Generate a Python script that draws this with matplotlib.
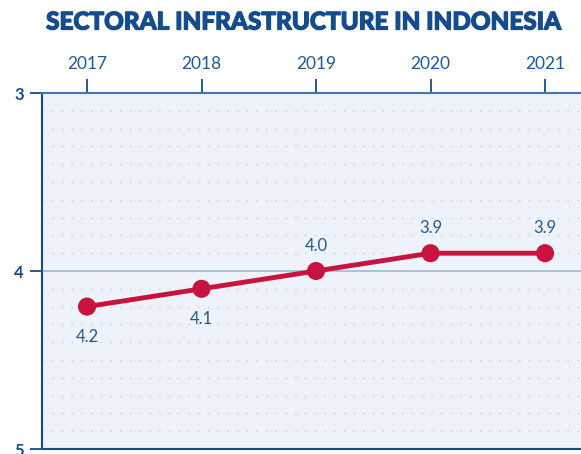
import matplotlib.pyplot as plt
import matplotlib.patheffects as pe
import numpy as np

years = [2017, 2018, 2019, 2020, 2021]
scores = [4.2, 4.1, 4.0, 3.9, 3.9]
labels = ["4.2", "4.1", "4.0", "3.9", "3.9"]
label_above = [False, False, True, True, True]
y_ticks = [3, 4, 5]

NAVY = "#154c8c"
TEXT = "#1f5a94"
RED = "#c8133f"
BG = "#eef3fb"

plt.rcParams["font.family"] = ["Lato", "DejaVu Sans"]

fig = plt.figure(figsize=(5.81, 4.54), dpi=100)
ax = fig.add_axes([42 / 581, 1 - 449 / 454, 539 / 581, (449 - 93) / 454])
ax.set_facecolor(BG)

ax.set_xlim(2016.607, 2021.314)
ax.set_ylim(5, 3)

# dotted grid every 0.1, solid line at 4
for y in np.arange(3.1, 5.0, 0.1):
    if abs(y - 4) < 1e-6:
        continue
    ax.axhline(y, color="#c5cfdc", lw=1.0, ls=(0, (1, 6)), zorder=1)
ax.axhline(4, color="#a8c4de", lw=1.4, zorder=1)

ax.plot(years, scores, color=RED, lw=3.5, zorder=3, solid_capstyle="round")
ax.scatter(years, scores, s=170, color=RED, zorder=4, edgecolors="none")

for x, y, txt, above in zip(years, scores, labels, label_above):
    off = 18 if above else -22
    ax.annotate(txt, (x, y), xytext=(0, off), textcoords="offset points",
                ha="center", va="center", color=TEXT, fontsize=12)

ax.xaxis.tick_top()
ax.set_xticks(years)
ax.set_xticklabels([str(y) for y in years])
ax.set_yticks(y_ticks)
ax.tick_params(axis="x", direction="out", length=10, width=1.3, color=NAVY,
               labelcolor=TEXT, labelsize=12.5, pad=5)
ax.tick_params(axis="y", direction="out", length=9, width=1.3, color=NAVY,
               labelcolor=NAVY, labelsize=12, pad=4)
for lbl in ax.get_yticklabels():
    lbl.set_fontweight("bold")

ax.spines["left"].set_color(NAVY)
ax.spines["left"].set_linewidth(1.5)
ax.spines["top"].set_color("#3b78b8")
ax.spines["top"].set_linewidth(1.5)
ax.spines["bottom"].set_color(NAVY)
ax.spines["bottom"].set_linewidth(1.5)
ax.spines["right"].set_visible(False)

fig.text(0.522, 1 - 22 / 454, "SECTORAL INFRASTRUCTURE IN INDONESIA",
         ha="center", va="center", color=NAVY, fontsize=17.5, fontweight="black",
         path_effects=[pe.withStroke(linewidth=0.9, foreground=NAVY)])

fig.savefig("out.png", dpi=100)
